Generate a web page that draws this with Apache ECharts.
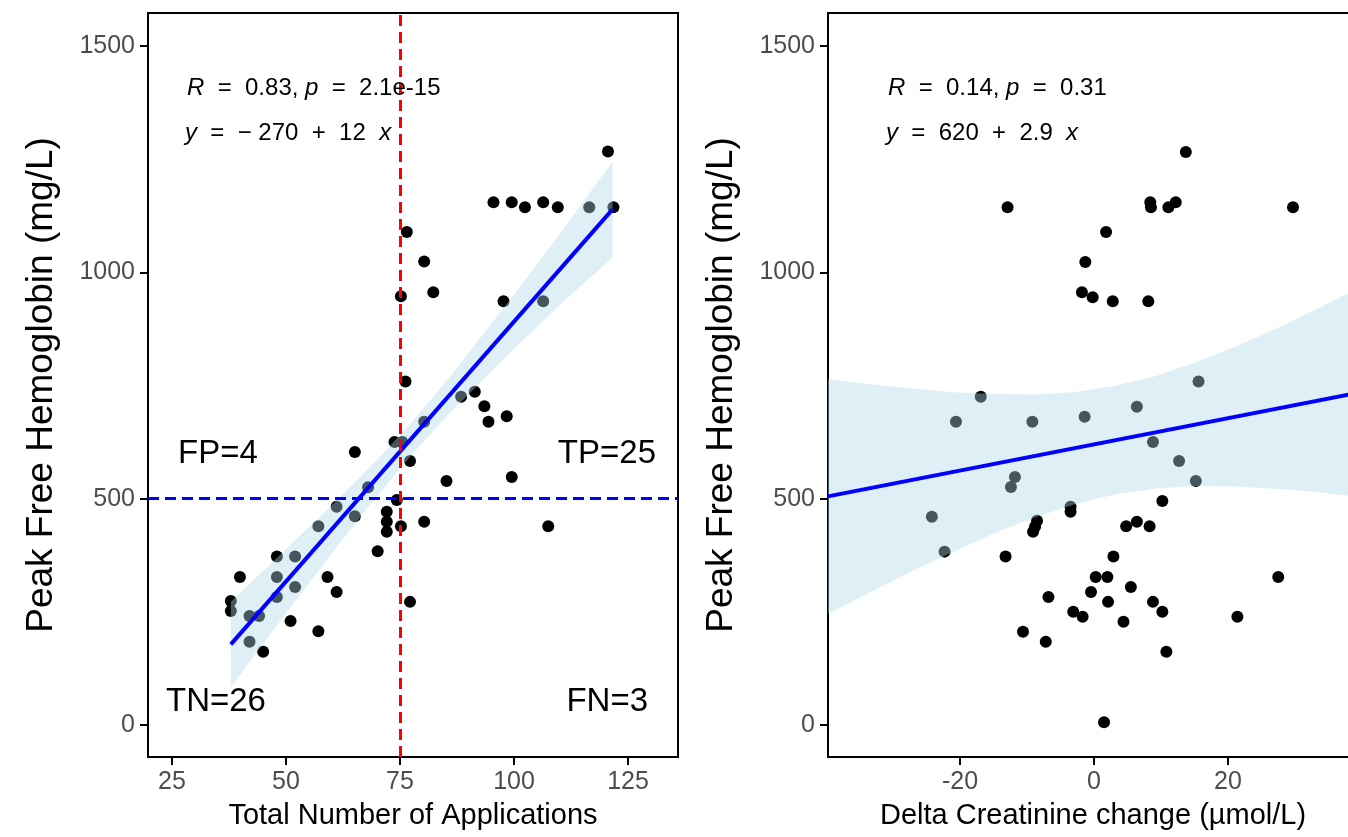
<!DOCTYPE html>
<html><head><meta charset="utf-8">
<script src="https://cdn.jsdelivr.net/npm/echarts@6/dist/echarts.min.js"></script>
<style>html,body{margin:0;padding:0;background:#fff}#c{width:1348px;height:837px}</style>
</head><body><div id="c"></div>
<script>
// ---- Left panel: Total Number of Applications vs Peak Free Hemoglobin ----
const leftApps = [120.6,95.5,99.5,102.4,106.4,109.6,116.5,121.8,76.5,80.3,75.2,82.3,76.2,97.7,106.4,88.4,91.4,93.5,94.4,98.4,80.3,75.5,77.2,85.2,99.5,
  65.1,73.8,68.0,74.3,
  75.2,80.3,107.5,77.2,
  72.1,72.1,72.1,70.1,61.1,65.1,57.1,48,52,39.9,48,52,48,59.1,61.1,37.9,37.9,42,44.1,51,57.1,42,45];
const leftHb = [1267,1155,1155,1144,1155,1144,1144,1144,1089,1024,947,956,759,936,936,725,736,704,670,682,670,625,583,539,548,
  603,625,525,497,
  439,449,439,272,
  471,449,427,384,482,461,439,372,372,327,327,305,283,327,294,274,252,241,241,230,207,184,162];
const leftFitX = [37.9, 121.6];
const leftFitY = [178, 1139];
const leftBandX  = [37.9, 50, 62, 70, 78, 86, 100, 110, 121.6];
const leftBandLo = [84, 247, 405, 506, 602, 690, 831, 928, 1033];
const leftBandHi = [272, 388, 505, 586, 674, 770, 951, 1084, 1245];
const leftXTicks = [25, 50, 75, 100, 125];
const cutX = 75, cutY = 500;

// ---- Right panel: Delta Creatinine change vs Peak Free Hemoglobin ----
const rightDelta = [-12.9,13.7,8.4,8.5,11.1,12.2,29.7,1.8,-1.3,-1.8,-0.2,2.8,8.1,-16.9,-20.6,-9.2,-1.4,-11.8,-12.4,15.6,6.4,8.8,12.7,15.2,10.2,
  -24.2,-22.3,-3.5,-3.5,-8.5,-8.8,-9.1,-13.2,-6.8,-3.1,-1.7,-10.6,-7.2,4.8,6.4,8.3,2.9,0.25,2.0,-0.45,5.5,2.1,8.8,10.2,4.4,10.8,1.5,27.5,21.4];
const rightHb = [1144,1266,1155,1144,1144,1155,1144,1089,1023,956,945,936,936,725,670,670,681,548,526,759,703,625,583,539,495,
  460,383,482,471,451,438,427,372,283,250,239,206,184,439,449,439,372,327,327,294,305,272,272,250,228,162,6,327,239];
const rightFitX = [-39.7, 39.4];
const rightFitY = [505, 734];
const rightBandX  = [-39.7, -33, -27, -21, -15, -9, -3, 3, 9, 15, 21, 27, 33, 39.4];
const rightBandLo = [246, 296, 341, 383, 423, 458, 487, 509, 522, 528, 527, 522, 515, 504];
const rightBandHi = [764, 752, 743, 735, 731, 730, 735, 749, 770, 800, 835, 874, 917, 964];
const rightXTicks = [-20, 0, 20];
const yTicks = [0, 500, 1000, 1500];

const FONT = 'Liberation Sans, Arial, Helvetica, sans-serif';
const zip = (a, b) => a.map((v, i) => [v, b[i]]);

function bandSeries(idx, bx, lo, hi) {
  return {
    type: 'custom', xAxisIndex: idx, yAxisIndex: idx, z: 3, silent: true,
    data: [[bx[0], lo[0]]],
    renderItem: function (params, api) {
      const pts = [];
      for (let i = 0; i < bx.length; i++) pts.push(api.coord([bx[i], hi[i]]));
      for (let i = bx.length - 1; i >= 0; i--) pts.push(api.coord([bx[i], lo[i]]));
      return { type: 'polygon', shape: { points: pts }, style: { fill: 'rgba(173,216,230,0.4)' } };
    }
  };
}

function xAxisCfg(idx, min, max, ticks, name) {
  return {
    gridIndex: idx, type: 'value', min: min, max: max,
    axisLine: { show: true, onZero: false, lineStyle: { color: '#000', width: 2 } },
    splitLine: { show: false },
    axisTick: { show: true, length: 8, lineStyle: { color: '#000', width: 2 }, customValues: ticks },
    axisLabel: { customValues: ticks, color: '#4d4d4d', fontSize: 25, fontFamily: FONT, margin: 13, formatter: v => String(v) },
    name: name, nameLocation: 'middle', nameGap: 44,
    nameTextStyle: { fontSize: 29, color: '#000', fontFamily: FONT }
  };
}
function yAxisCfg(idx) {
  return {
    gridIndex: idx, type: 'value', min: -70.7, max: 1572.9,
    axisLine: { show: true, onZero: false, lineStyle: { color: '#000', width: 2 } },
    splitLine: { show: false },
    axisTick: { show: true, length: 8, lineStyle: { color: '#000', width: 2 }, customValues: yTicks },
    axisLabel: { customValues: yTicks, color: '#4d4d4d', fontSize: 25, fontFamily: FONT, margin: 13, formatter: v => String(v) },
    name: 'Peak Free Hemoglobin (mg/L)', nameLocation: 'middle', nameGap: 88,
    nameTextStyle: { fontSize: 37, color: '#000', fontFamily: FONT }
  };
}

function txt(x, y, text, size, align, rich) {
  return {
    type: 'text', x: x, y: y, z: 100,
    style: {
      text: text, fontSize: size, fontFamily: FONT, fill: '#000',
      textAlign: align, textVerticalAlign: 'middle',
      rich: rich ? { i: { fontStyle: 'italic', fontSize: size, fontFamily: FONT, fill: '#000' } } : undefined
    }
  };
}

const chart = echarts.init(document.getElementById('c'), null, { renderer: 'canvas' });
chart.setOption({
  animation: false,
  backgroundColor: '#fff',
  grid: [
    { left: 148, top: 13, width: 530, height: 744, show: true, borderColor: '#000', borderWidth: 2, backgroundColor: '#fff', outerBoundsMode: 'none', containLabel: false },
    { left: 828, top: 13, width: 530, height: 744, show: true, borderColor: '#000', borderWidth: 2, backgroundColor: '#fff', outerBoundsMode: 'none', containLabel: false }
  ],
  xAxis: [
    xAxisCfg(0, 19.74, 135.96, leftXTicks, 'Total Number of Applications'),
    xAxisCfg(1, -39.7, 39.4, rightXTicks, 'Delta Creatinine change (\u00b5mol/L)')
  ],
  yAxis: [yAxisCfg(0), yAxisCfg(1)],
  series: [
    { type: 'scatter', xAxisIndex: 0, yAxisIndex: 0, z: 2, symbolSize: 12, itemStyle: { color: '#000', opacity: 1 }, data: zip(leftApps, leftHb) },
    bandSeries(0, leftBandX, leftBandLo, leftBandHi),
    { type: 'line', xAxisIndex: 0, yAxisIndex: 0, z: 4, showSymbol: false, symbol: 'none', lineStyle: { color: '#0000ff', width: 4 }, data: zip(leftFitX, leftFitY) },
    { type: 'line', xAxisIndex: 0, yAxisIndex: 0, z: 5, data: [], symbol: 'none',
      markLine: { silent: true, symbol: ['none', 'none'], label: { show: false }, animation: false,
        data: [
          { xAxis: cutX, lineStyle: { color: '#ff0000', width: 3, type: [11, 6] } },
          { yAxis: cutY, lineStyle: { color: '#0000ff', width: 3, type: [11, 6] } }
        ] } },
    { type: 'scatter', xAxisIndex: 1, yAxisIndex: 1, z: 2, symbolSize: 12, itemStyle: { color: '#000', opacity: 1 }, data: zip(rightDelta, rightHb) },
    bandSeries(1, rightBandX, rightBandLo, rightBandHi),
    { type: 'line', xAxisIndex: 1, yAxisIndex: 1, z: 4, showSymbol: false, symbol: 'none', lineStyle: { color: '#0000ff', width: 4 }, data: zip(rightFitX, rightFitY) }
  ],
  graphic: [
    txt(187, 88, '{i|R}  =  0.83, {i|p}  =  2.1e-15', 24, 'left', true),
    txt(185, 133, '{i|y}  =  \u2212 270  +  12  {i|x}', 24, 'left', true),
    txt(888, 88, '{i|R}  =  0.14, {i|p}  =  0.31', 24, 'left', true),
    txt(886, 133, '{i|y}  =  620  +  2.9  {i|x}', 24, 'left', true),
    txt(178, 454, 'FP=4', 33, 'left', false),
    txt(656, 454, 'TP=25', 33, 'right', false),
    txt(166, 702, 'TN=26', 33, 'left', false),
    txt(648, 702, 'FN=3', 33, 'right', false)
  ]
});
</script>
</body></html>
